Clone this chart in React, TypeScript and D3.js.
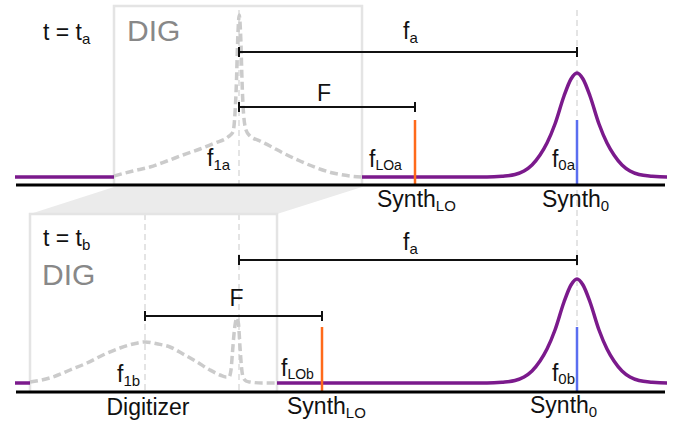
import React from 'react';
import * as d3 from 'd3';

// ---------- data (frequency units along the axis, amplitude units above it) ----------
const PANEL_TIMES = ['a', 'b'];
const SYNTH0_FREQ = [562, 562];
const LO_FREQ = [400, 307];
const F1_FREQ = [224, 130];
const DIG_SPIKE_FREQ = [224, 224];
const DIG_BAND_LO = [99, 15];
const DIG_BAND_HI = [347, 262];
const BASELINE = [8, 9];
const SPIKE_HEIGHT = [65, 65];
const FA_LEVEL = [133, 132];
const F_LEVEL = [78, 76];
const F_LO_DOMAIN = [0, 650];

// half profile of the synth peak: [offset from centre, height above baseline]
const PEAK_OFFSET = [0, 6, 13, 22, 30, 37, 45, 53, 62, 75, 90];
const PEAK_HEIGHT = [104, 98, 81, 53, 34, 22, 12, 6, 2.5, 0.8, 0];

// digitizer response (dashed gray), [freq, amplitude]
const DIG_CURVE_A: [number, number][] = [
  [99, 9], [118, 14], [135, 18], [152, 24], [168, 30], [185, 36], [200, 42], [213, 48],
  [218, 53], [220, 72], [221.5, 105], [222.5, 140], [223.5, 163], [224.2, 170], [225, 163],
  [226, 140], [227, 105], [228.5, 72], [231, 55], [235, 49], [245, 44], [255, 39],
  [268, 32], [285, 24], [302, 17], [318, 12], [335, 9], [347, 8],
];
const DIG_CURVE_B: [number, number][] = [
  [15, 10], [38, 15], [55, 22], [72, 29], [88, 37], [105, 44], [118, 48], [130, 50],
  [143, 48], [155, 45], [168, 38], [182, 30], [195, 22], [205, 17], [211, 15], [214, 15],
  [216, 22], [217.5, 40], [219, 58], [220.5, 70], [222, 74], [223.5, 68], [225, 45],
  [226.5, 25], [228, 15], [231, 11], [235, 10], [247, 9], [262, 9],
];
const DIG_CURVES = [DIG_CURVE_A, DIG_CURVE_B];

// ---------- layout ----------
const W = 695;
const H = 423;
const AXIS_Y = [185, 392];
const BOX_TOP = [6, 214];
const FONT = "'Liberation Sans', Arial, Helvetica, sans-serif";
const PURPLE = '#7b1a8c';
const ORANGE = '#ff6a1a';
const BLUE = '#5a6ef0';
const GRAY_CURVE = '#cbcbcb';
const GRAY_LINE = '#e4e4e4';
const FS = 23;
const SUB = 15;

const xScale = d3.scaleLinear().domain(F_LO_DOMAIN).range([15, 665]);
const yScaleFor = (i: number) =>
  d3.scaleLinear().domain([0, 180]).range([AXIS_Y[i], AXIS_Y[i] - 180]);

function Sub({ base, sub, x, y, size = FS, subSize = SUB, dy = 4, anchor = 'start', fill = '#111' }: any) {
  return (
    <text x={x} y={y} fontSize={size} fontFamily={FONT} fill={fill} textAnchor={anchor}>
      {base}
      {sub ? (
        <tspan fontSize={subSize} dy={dy}>
          {sub}
        </tspan>
      ) : null}
    </text>
  );
}

function Arrow({ x1, x2, y }: { x1: number; x2: number; y: number }) {
  return (
    <g stroke="#111" strokeWidth={2}>
      <line x1={x1} x2={x2} y1={y} y2={y} />
      <line x1={x1} x2={x1} y1={y - 5} y2={y + 5} />
      <line x1={x2} x2={x2} y1={y - 5} y2={y + 5} />
    </g>
  );
}

function Panel({ i }: { i: number }) {
  const y = yScaleFor(i);
  const line = d3
    .line<[number, number]>()
    .x((d) => xScale(d[0]))
    .y((d) => y(d[1]))
    .curve(d3.curveMonotoneX);

  const base = BASELINE[i];
  const s0 = SYNTH0_FREQ[i];
  const leftSeg: [number, number][] = [
    [F_LO_DOMAIN[0], base],
    [DIG_BAND_LO[i], base],
  ];
  const rightSeg: [number, number][] = [[DIG_BAND_HI[i], base]];
  for (let k = PEAK_OFFSET.length - 1; k > 0; k--) rightSeg.push([s0 - PEAK_OFFSET[k], base + PEAK_HEIGHT[k]]);
  for (let k = 0; k < PEAK_OFFSET.length; k++) rightSeg.push([s0 + PEAK_OFFSET[k], base + PEAK_HEIGHT[k]]);
  rightSeg.push([F_LO_DOMAIN[1], base]);

  const ax = AXIS_Y[i];
  const xLo = xScale(LO_FREQ[i]);
  const xS0 = xScale(s0);
  const xSpike = xScale(DIG_SPIKE_FREQ[i]);
  const xF1 = xScale(F1_FREQ[i]);
  const t = PANEL_TIMES[i];

  return (
    <g>
      {/* digitizer box */}
      <rect
        x={xScale(DIG_BAND_LO[i])}
        y={BOX_TOP[i]}
        width={xScale(DIG_BAND_HI[i]) - xScale(DIG_BAND_LO[i])}
        height={ax - BOX_TOP[i]}
        fill="none"
        stroke={GRAY_LINE}
        strokeWidth={2.5}
      />
      {/* guide lines */}
      <line x1={xSpike} x2={xSpike} y1={i === 0 ? 10 : BOX_TOP[i]} y2={ax} stroke={GRAY_LINE} strokeWidth={2} strokeDasharray="6 4" />
      {i === 1 && (
        <line x1={xF1} x2={xF1} y1={BOX_TOP[i]} y2={ax} stroke={GRAY_LINE} strokeWidth={2} strokeDasharray="6 4" />
      )}
      {/* digitizer response */}
      <path d={line(DIG_CURVES[i]) || ''} fill="none" stroke={GRAY_CURVE} strokeWidth={3.5} strokeDasharray="8 4" />
      {/* synth lines */}
      <path d={line(leftSeg) || ''} fill="none" stroke={PURPLE} strokeWidth={3.5} />
      <path d={line(rightSeg) || ''} fill="none" stroke={PURPLE} strokeWidth={3.5} />
      <line x1={xLo} x2={xLo} y1={y(0)} y2={y(SPIKE_HEIGHT[i])} stroke={ORANGE} strokeWidth={2.5} />
      <line x1={xS0} x2={xS0} y1={y(0)} y2={y(SPIKE_HEIGHT[i])} stroke={BLUE} strokeWidth={2.5} />
      {/* axis */}
      <line x1={xScale(F_LO_DOMAIN[0]) + 1} x2={xScale(F_LO_DOMAIN[1])} y1={ax} y2={ax} stroke="#000" strokeWidth={3} />
      {/* arrows */}
      <Arrow x1={xSpike} x2={xS0} y={y(FA_LEVEL[i])} />
      <Arrow x1={xF1} x2={xLo} y={y(F_LEVEL[i])} />
      {/* labels */}
      <Sub base="f" sub="a" x={(xSpike + xS0) / 2 - 5} y={y(FA_LEVEL[i]) - 13 + (i === 1 ? 3 : 0)} />
      <Sub base="F" x={(xF1 + xLo) / 2 - (i === 0 ? 10 : 4)} y={y(F_LEVEL[i]) - 6 + (i === 1 ? -4 : 0)} />
      <Sub base="f" sub={'1' + t} x={xF1 - (i === 0 ? 32 : 28)} y={i === 0 ? ax - 19 : ax - 10} />
      <Sub base="f" sub={'LO' + t} x={xLo - (i === 0 ? 46 : 41)} y={i === 0 ? ax - 18 : ax - 16} subSize={14} dy={3} />
      <Sub base="f" sub={'0' + t} x={xS0 - 2} y={i === 0 ? ax - 18 : ax - 11} anchor="end" dy={3} />
      <Sub base="Synth" sub="LO" x={xLo - (i === 0 ? 38 : 35)} y={ax + 22} />
      <Sub base="Synth" sub="0" x={xS0 - (i === 0 ? 35 : 47)} y={i === 0 ? ax + 22 : ax + 21} />
      <Sub base="t = t" sub={t} x={43} y={i === 0 ? 40 : 246} />
      <text x={i === 0 ? 127 : 42} y={i === 0 ? 41 : 285} fontSize={30} fontFamily={FONT} fill="#888">
        DIG
      </text>
      {i === 1 && (
        <text x={xF1 + 3} y={ax + 23} fontSize={FS} fontFamily={FONT} textAnchor="middle" fill="#111">
          Digitizer
        </text>
      )}
    </g>
  );
}

export default function App() {
  const s0x = xScale(SYNTH0_FREQ[0]);
  const band = [
    [xScale(DIG_BAND_LO[0]), AXIS_Y[0] + 2],
    [xScale(DIG_BAND_HI[0]), AXIS_Y[0] + 2],
    [xScale(DIG_BAND_HI[1]), BOX_TOP[1]],
    [xScale(DIG_BAND_LO[1]), BOX_TOP[1]],
  ];
  return (
    <svg width={W} height={H} style={{ position: 'absolute', left: 0, top: 0, background: '#fff' }}>
      <rect width={W} height={H} fill="#fff" />
      <polygon points={band.map((p) => p.join(',')).join(' ')} fill="#ebebeb" />
      <line x1={s0x} x2={s0x} y1={10} y2={AXIS_Y[1]} stroke={GRAY_LINE} strokeWidth={2} strokeDasharray="6 4" />
      <Panel i={0} />
      <Panel i={1} />
    </svg>
  );
}
